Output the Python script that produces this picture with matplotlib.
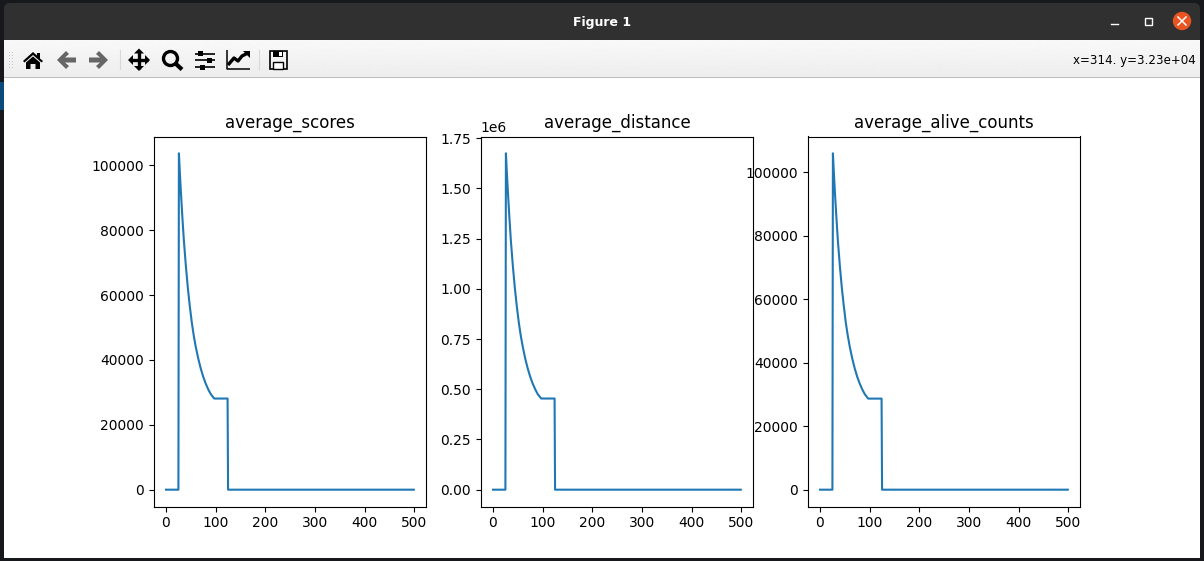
import matplotlib
matplotlib.use("Agg")
import matplotlib.pyplot as plt
from matplotlib.patches import Rectangle, FancyBboxPatch, Polygon, Circle
from matplotlib.lines import Line2D
import numpy as np

W, H = 1204, 561

# ---- data -------------------------------------------------------------
generations = [0, 25, 26, 28, 30, 33, 36, 40, 44, 48, 52, 56, 60, 65, 70, 75, 80, 85, 90, 97, 124, 125, 499]
average_scores = [0, 0, 103700, 97500, 91800, 84000, 76800, 69000, 62200, 56500, 51500, 47400,
                  44000, 40400, 37350, 34800, 32700, 30950, 29500, 28100, 28100, 0, 0]
average_distance = [0, 0, 1675000, 1575000, 1483000, 1357000, 1240000, 1114000, 1005000, 912000,
                    832000, 766000, 711000, 652000, 603000, 562000, 528000, 500000, 476000,
                    454000, 454000, 0, 0]
average_alive_counts = [0, 0, 106000, 99700, 93800, 85900, 78500, 70500, 63600, 57800, 52600,
                        48500, 45000, 41300, 38180, 35570, 33430, 31640, 30150, 28700, 28700, 0, 0]
titles = ["average_scores", "average_distance", "average_alive_counts"]
window_title = "Figure 1"
status_text = "x=314. y=3.23e+04"
series = [average_scores, average_distance, average_alive_counts]
axes_left_px = [153.6, 480.6, 807.6]

fig = plt.figure(figsize=(W / 100, H / 100), dpi=100, facecolor="#16181c")

# ---- window chrome, in pixel coordinates -------------------------------
ui = fig.add_axes([0, 0, 1, 1], zorder=-1)
ui.set_xlim(0, W)
ui.set_ylim(H, 0)
ui.set_axis_off()

ui.add_patch(Rectangle((0, 82), 4, 28, fc="#0b4a7c", ec="none"))
ui.add_patch(FancyBboxPatch((4, 3), W - 8, 37, boxstyle="round,pad=0,rounding_size=6",
                            fc="#303030", ec="none"))
ui.add_patch(Rectangle((4, 30), W - 8, 10, fc="#303030", ec="none"))
ui.imshow(np.linspace(0.975, 0.93, 37).reshape(-1, 1), cmap="gray", vmin=0, vmax=1,
          extent=(4, W - 4, 77, 40), aspect="auto", zorder=1)
ui.set_xlim(0, W)
ui.set_ylim(H, 0)
ui.add_patch(Rectangle((4, 77), W - 8, 1, fc="#bdbdbd", ec="none", zorder=2))
ui.add_patch(Rectangle((4, 78), W - 8, 480, fc="white", ec="none", zorder=2))

ui.text(602, 22, window_title, color="white", fontsize=9.0, fontweight="bold",
        family="DejaVu Sans", ha="center", va="center", zorder=3)
ui.text(1196, 60, status_text, color="black", fontsize=8.6, ha="right", va="center", zorder=3)

# window buttons
ui.add_line(Line2D([1111, 1118], [24, 24], color="white", lw=1.0, zorder=3))
ui.add_patch(Rectangle((1144.5, 17.5), 7, 7, fc="none", ec="white", lw=1.0, zorder=3))
ui.add_patch(Circle((1182, 21), 9.2, fc="#e95420", ec="none", zorder=3))
ui.add_line(Line2D([1178, 1186], [17, 25], color="white", lw=1.1, zorder=4))
ui.add_line(Line2D([1178, 1186], [25, 17], color="white", lw=1.1, zorder=4))

# toolbar grip and separators
for yy in range(52, 68, 3):
    for xx in (9, 12):
        ui.add_patch(Rectangle((xx, yy), 1, 1, fc="#c4c4c4", ec="none", zorder=3))
for xx in (119.5, 258.5):
    ui.add_line(Line2D([xx, xx], [50, 69], color="#d8d8d8", lw=0.8, zorder=3))


def poly(pts, fc="black"):
    ui.add_patch(Polygon(pts, closed=True, fc=fc, ec="none", zorder=3))


def seg(xs, ys, lw=1.6, c="black"):
    ui.add_line(Line2D(xs, ys, color=c, lw=lw, zorder=3, solid_capstyle="butt"))


# home
poly([(23, 61), (33, 52), (37, 55.5), (37, 53), (40, 53), (40, 58.5), (43, 61), (41.5, 62.5),
      (33, 55), (24.5, 62.5)])
poly([(26, 62.5), (33, 56.5), (40, 62.5), (40, 69), (35.5, 69), (35.5, 64), (30.5, 64), (30.5, 69), (26, 69)])
# back / forward
poly([(57, 60), (66, 51), (69, 54), (65, 57.5), (76, 57.5), (76, 62.5), (65, 62.5), (69, 66), (66, 69)], "#666666")
poly([(108, 60), (99, 51), (96, 54), (100, 57.5), (89, 57.5), (89, 62.5), (100, 62.5), (96, 66), (99, 69)], "#666666")
# pan
seg([130, 148], [60, 60], 2.4)
seg([139, 139], [51, 69], 2.4)
poly([(128, 60), (133, 55), (133, 65)])
poly([(150, 60), (145, 55), (145, 65)])
poly([(139, 48.5), (134, 53.5), (144, 53.5)])
poly([(139, 71), (134, 66), (144, 66)])
# zoom
ui.add_patch(Circle((170.5, 58.5), 7, fc="none", ec="black", lw=2.4, zorder=3))
seg([175.5, 182], [63.5, 69.5], 3)
# sliders
for yy, xx in ((53.5, 200.5), (60, 209), (67, 202)):
    seg([195, 215], [yy, yy], 1.2)
    ui.add_patch(Rectangle((xx - 2.5, yy - 2.5), 5, 5, fc="black", ec="none", zorder=3))
# lines icon
seg([226.5, 226.5, 250], [50, 68.5, 68.5], 1.1)
seg([228, 234, 238, 242, 248], [65, 58, 61, 56, 53], 2.4)
poly([(243, 51), (250, 51), (250, 58)])
# save
ui.add_patch(Rectangle((269.5, 51), 17, 18, fc="none", ec="black", lw=1.2, zorder=3))
ui.add_patch(Rectangle((273, 51), 10, 6, fc="black", ec="none", zorder=3))
ui.add_patch(Rectangle((279, 52), 2.5, 4, fc="white", ec="none", zorder=4))
ui.add_patch(Rectangle((273, 62), 10, 7, fc="white", ec="black", lw=1.0, zorder=3))

# ---- the three charts ---------------------------------------------------
for left, title, values in zip(axes_left_px, titles, series):
    ax = fig.add_axes([left / W, 1 - 506.5 / H, 272.6 / W, 370 / H])
    ax.plot(generations, values)
    ax.set_title(title)

fig.savefig("out.png", dpi=100, facecolor=fig.get_facecolor())
